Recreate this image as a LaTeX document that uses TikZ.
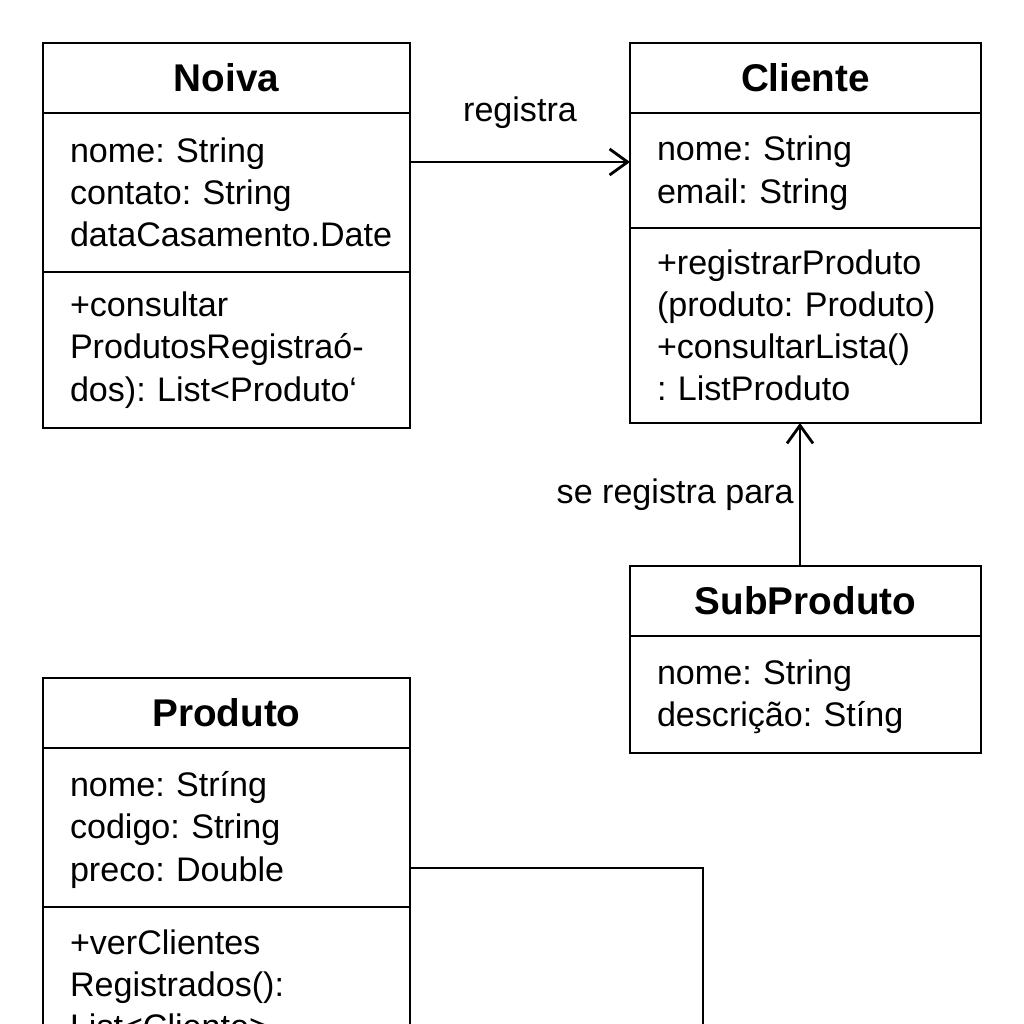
\documentclass[tikz,border=0pt]{standalone}
\usepackage{fontspec}
\setmainfont{Liberation Sans}
\usetikzlibrary{positioning,arrows.meta}
\frenchspacing

\begin{document}
\begin{tikzpicture}[
		classname/.style={
			draw,
			text width=#1,
			align=center,
			minimum height=7mm,
			inner xsep=2.7mm,
			inner ysep=0pt,
			outer sep=0pt,
			anchor=north west,
			font=\fontsize{11}{13}\selectfont\bfseries,
		},
		compart/.style={
			draw,
			text width=#1,
			align=left,
			inner xsep=2.7mm,
			inner ysep=0pt,
			outer sep=0pt,
			font=\fontsize{9.7}{12}\selectfont,
		},
		line width=0.8pt,
		>={Straight Barb[length=1.8mm,width=2.6mm]}
		]
		\path[use as bounding box,clip] (0,0) rectangle (10.24,-10.24);
		\fill[white] (0,0) rectangle (10.24,-10.24);
		% Noiva
		\node [classname=3.13cm] (noiva) at (0.43,-0.43) {Noiva};
		\node [compart=3.13cm,minimum height=15.9mm,below=0pt of noiva] (noivaattr)
			{nome: String\\contato: String\\dataCasamento.Date};
		\node [compart=3.13cm,minimum height=15.6mm,below=0pt of noivaattr] (noivameth)
			{+consultar\\ProdutosRegistraó-\\dos): List<Produto`};
		% Cliente
		\node [classname=2.97cm] (cliente) at (6.30,-0.43) {Cliente};
		\node [compart=2.97cm,minimum height=11.5mm,below=0pt of cliente] (clienteattr)
			{\rule{0pt}{3mm}nome: String\\email: String};
		\node [compart=2.97cm,minimum height=19.5mm,below=0pt of clienteattr] (clientemeth)
			{+registrarProduto\\(produto: Produto)\\+consultarLista()\\: ListProduto};
		% SubProduto
		\node [classname=2.97cm] (sub) at (6.30,-5.66) {SubProduto};
		\node [compart=2.97cm,minimum height=11.7mm,below=0pt of sub] (subattr)
			{\rule{0pt}{3mm}nome: String\\descrição: Stíng};
		% Produto
		\node [classname=3.13cm] (produto) at (0.43,-6.78) {Produto};
		\node [compart=3.13cm,minimum height=15.9mm,below=0pt of produto] (prodattr)
			{\rule{0pt}{3mm}nome: Stríng\\codigo: String\\preco: Double};
		\node [compart=3.13cm,minimum height=15.4mm,below=0pt of prodattr] (prodmeth)
			{+verClientes\\Registrados():\\List<Cliente>};
		% Connectors
		\draw[->] ([yshift=-4.9mm]noivaattr.north east) -- ([yshift=-4.9mm]clienteattr.north west)
			node[midway,above=2mm,font=\fontsize{9.7}{12}\selectfont] (lblreg) {registra};
		\draw[->] (sub.north -| 8.00,0) -- (clientemeth.south -| 8.00,0)
			node[midway,left=0pt,inner xsep=0.5mm,font=\fontsize{9.7}{12}\selectfont] (lblpara) {se registra para};
		\coordinate (prodend) at (7.03,-10.6);
		\draw ([yshift=-12mm]prodattr.north east) -| (prodend);
	\end{tikzpicture}
\end{document}
